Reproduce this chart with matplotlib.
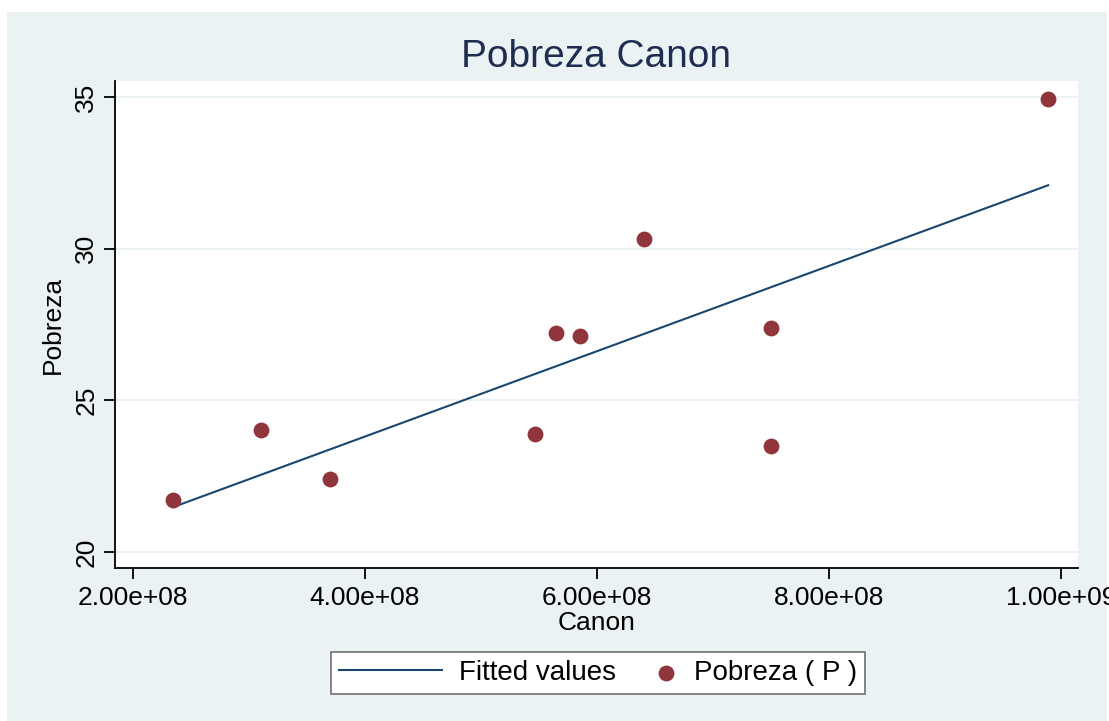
import numpy as np
import matplotlib
matplotlib.use("Agg")
import matplotlib.pyplot as plt
from matplotlib.patches import Rectangle
from matplotlib.ticker import FuncFormatter
from matplotlib.legend_handler import HandlerPathCollection

plt.rcParams['font.family'] = ['Liberation Sans', 'DejaVu Sans']

# data
canon = [2.345e8, 3.10e8, 3.70e8, 5.47e8, 5.65e8, 5.85e8, 6.405e8, 7.50e8, 7.50e8, 9.89e8]
pobreza = [21.72, 24.03, 22.41, 23.89, 27.23, 27.13, 30.33, 27.39, 23.50, 34.92]
x_ticks = [2e8, 4e8, 6e8, 8e8, 1e9]
y_ticks = [20, 25, 30, 35]

bg = '#eaf2f3'
red = '#90353b'
navy = '#1a476f'


class RightMarker(HandlerPathCollection):
    # put the legend marker at the right end of its handle box
    def get_xdata(self, legend, xdescent, ydescent, width, height, fontsize):
        x = [-xdescent + width - 0.4 * fontsize]
        return x, x


W, H = 1109, 721
fig = plt.figure(figsize=(W / 100, H / 100), dpi=100)
fig.patch.set_facecolor('white')
fig.patches.append(Rectangle((7 / W, 0), 1100 / W, 1 - 12 / H, transform=fig.transFigure,
                             facecolor=bg, edgecolor='none', zorder=-10))

ax = fig.add_axes([115 / W, 1 - 568 / H, (1078 - 115) / W, (568 - 81) / H])
ax.set_facecolor('white')

# linear fit
b, a = np.polyfit(canon, pobreza, 1)
xs = np.array([min(canon), max(canon)])
line, = ax.plot(xs, a + b * xs, color=navy, lw=1.5, label='Fitted values', zorder=3)
pts = ax.scatter(canon, pobreza, s=130, color=red, label='Pobreza ( P )', zorder=4, linewidths=0)

ax.set_xlim(1.845e8, 1.0147e9)
ax.set_ylim(19.47, 35.53)
ax.set_xticks(x_ticks)
ax.set_yticks(y_ticks)
ax.xaxis.set_major_formatter(FuncFormatter(lambda v, p: ('%.2e' % v)))
ax.grid(axis='y', color=bg, lw=1.5)
ax.set_axisbelow(True)

for s in ['top', 'right']:
    ax.spines[s].set_visible(False)
for s in ['left', 'bottom']:
    ax.spines[s].set_linewidth(1.3)
ax.tick_params(axis='both', labelsize=19, length=8, width=1.3, colors='black')
plt.setp(ax.get_yticklabels(), rotation=90, va='center')
ax.tick_params(axis='y', pad=4)
ax.tick_params(axis='x', pad=5)

ax.set_xlabel('Canon', fontsize=19)
ax.xaxis.set_label_coords(0.5, -(623 - 568) / 487)
ax.xaxis.label.set_va('center')
ax.set_ylabel('Pobreza', fontsize=19)
ax.yaxis.set_label_coords(-(115 - 53) / 963, 0.5)
ax.yaxis.label.set_va('center')
fig.text(596 / W, 1 - 57 / H, 'Pobreza Canon', ha='center', va='center',
         fontsize=28, color='#1e2d50')

leg = fig.legend(handles=[line, pts], loc='center', ncol=2,
                 bbox_to_anchor=(598 / W, 1 - 673 / H), fontsize=20,
                 frameon=True, fancybox=False, edgecolor='#707070', framealpha=1,
                 handlelength=3.7, handletextpad=0.6, columnspacing=-1.5,
                 borderpad=0.3, handler_map={pts: RightMarker()})
leg.get_frame().set_linewidth(1.2)

fig.savefig('out.png', dpi=100)
